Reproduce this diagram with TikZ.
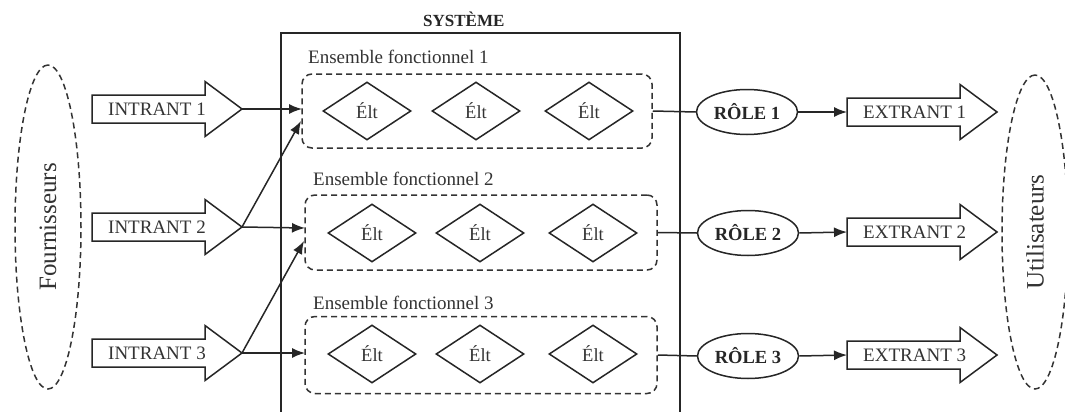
\documentclass[tikz,border=0pt]{standalone}
\usepackage{fontspec}
\setmainfont{Liberation Serif}
\usetikzlibrary{shapes.geometric,arrows.meta}
\newcommand\fatarrow[4]{%
  \draw[line, fill=white] (#2,#3-14) -- ++(113,0) -- ++(0,-13.5) -- (#2+150,#3) -- (#2+113,#3+27.5) -- ++(0,-13.5) -- (#2,#3+14) -- cycle;
  \node[txt, anchor=west] (#1) at (#2+16,#3) {#4};
  \coordinate (#1tip) at (#2+150,#3);
  \coordinate (#1tail) at (#2,#3);
}
\begin{document}
\begin{tikzpicture}[x=1pt,y=-1pt,
  line/.style={draw=black!85, line width=1.5pt},
  dashln/.style={draw=black!80, line width=1.5pt, dash pattern=on 6pt off 4pt},
  txt/.style={font=\fontsize{19}{21}\selectfont, text=black!80, inner sep=0pt},
  elt/.style={diamond, draw=black!85, line width=1.5pt, minimum width=88pt, minimum height=58pt, inner sep=0pt, aspect=1.5, font=\fontsize{18.5}{20}\selectfont, text=black!80},
  role/.style={ellipse, draw=black!85, line width=1.5pt, minimum width=101pt, minimum height=45pt, inner sep=0pt, font=\bfseries\fontsize{18.5}{20}\selectfont, text=black!85},
  grp/.style={dashln, rectangle, rounded corners=10pt, inner sep=0pt},
  conn/.style={line, -{Latex[length=13pt,width=10pt]}},
  who/.style={ellipse, dashln, inner sep=0pt, rotate=90, font=\fontsize{25}{28}\selectfont, text=black!80},
]
\useasboundingbox (0,0) rectangle (1065,412);
\clip (0,0) rectangle (1065,412);
\fill[white] (0,0) rectangle (1065,412);

% supplier / user ellipses
\node[who, minimum width=324pt, minimum height=66pt] (four) at (48,227) {Fournisseurs};
\node[who, minimum width=314pt, minimum height=66pt] (util) at (1035,232) {Utilisateurs};

% system box
\coordinate (sysnw) at (281,33);
\coordinate (sysse) at (680,430);
\draw[line] (sysnw) rectangle (sysse);
\node[font=\bfseries\fontsize{17}{20}\selectfont, text=black!85, anchor=west, inner sep=0pt] (sys) at (423,19) {SYSTÈME};

% functional sets
\node[txt, anchor=west] (l1) at (308,57) {Ensemble fonctionnel 1};
\node[txt, anchor=west] (l2) at (313,179) {Ensemble fonctionnel 2};
\node[txt, anchor=west] (l3) at (313,303) {Ensemble fonctionnel 3};

\node[grp, minimum width=350pt, minimum height=74pt] (g1) at (477,111) {};
\node[grp, minimum width=352pt, minimum height=75pt] (g2) at (481,232.5) {};
\node[grp, minimum width=352pt, minimum height=77pt] (g3) at (481,355) {};

\node[elt] (a1) at (367,111) {Élt};
\node[elt] (a2) at (476,111) {Élt};
\node[elt] (a3) at (589,111) {Élt};
\node[elt] (b1) at (372,233) {Élt};
\node[elt] (b2) at (480,233) {Élt};
\node[elt] (b3) at (593,233) {Élt};
\node[elt] (c1) at (372,354) {Élt};
\node[elt] (c2) at (480,354) {Élt};
\node[elt] (c3) at (593,354) {Élt};

% roles
\node[role] (r1) at (747,112) {RÔLE 1};
\node[role] (r2) at (748,233) {RÔLE 2};
\node[role] (r3) at (748,356) {RÔLE 3};

% inputs and outputs
\fatarrow{i1}{92}{109}{INTRANT 1}
\fatarrow{i2}{92}{227}{INTRANT 2}
\fatarrow{i3}{92}{353}{INTRANT 3}
\fatarrow{e1}{847}{112}{EXTRANT 1}
\fatarrow{e2}{847}{232}{EXTRANT 2}
\fatarrow{e3}{847}{355}{EXTRANT 3}

% entry points
\coordinate (g1in1) at (302,109);
\coordinate (g1in2) at (301,121);
\coordinate (g2in2) at (305,228);
\coordinate (g2in3) at (304,241);
\coordinate (g3in3) at (305,353);

\draw[conn] (i1tip) -- (g1in1);
\draw[conn] (i2tip) -- (g1in2);
\draw[conn] (i2tip) -- (g2in2);
\draw[conn] (i3tip) -- (g2in3);
\draw[conn] (i3tip) -- (g3in3);

\draw[line] (g1.east) -- (r1.west);
\draw[line] (g2.east) -- (r2.west);
\draw[line] (g3.east) -- (r3.west);
\draw[conn] (r1.east) -- (e1tail);
\draw[conn] (r2.east) -- (e2tail);
\draw[conn] (r3.east) -- (e3tail);
\end{tikzpicture}
\end{document}
